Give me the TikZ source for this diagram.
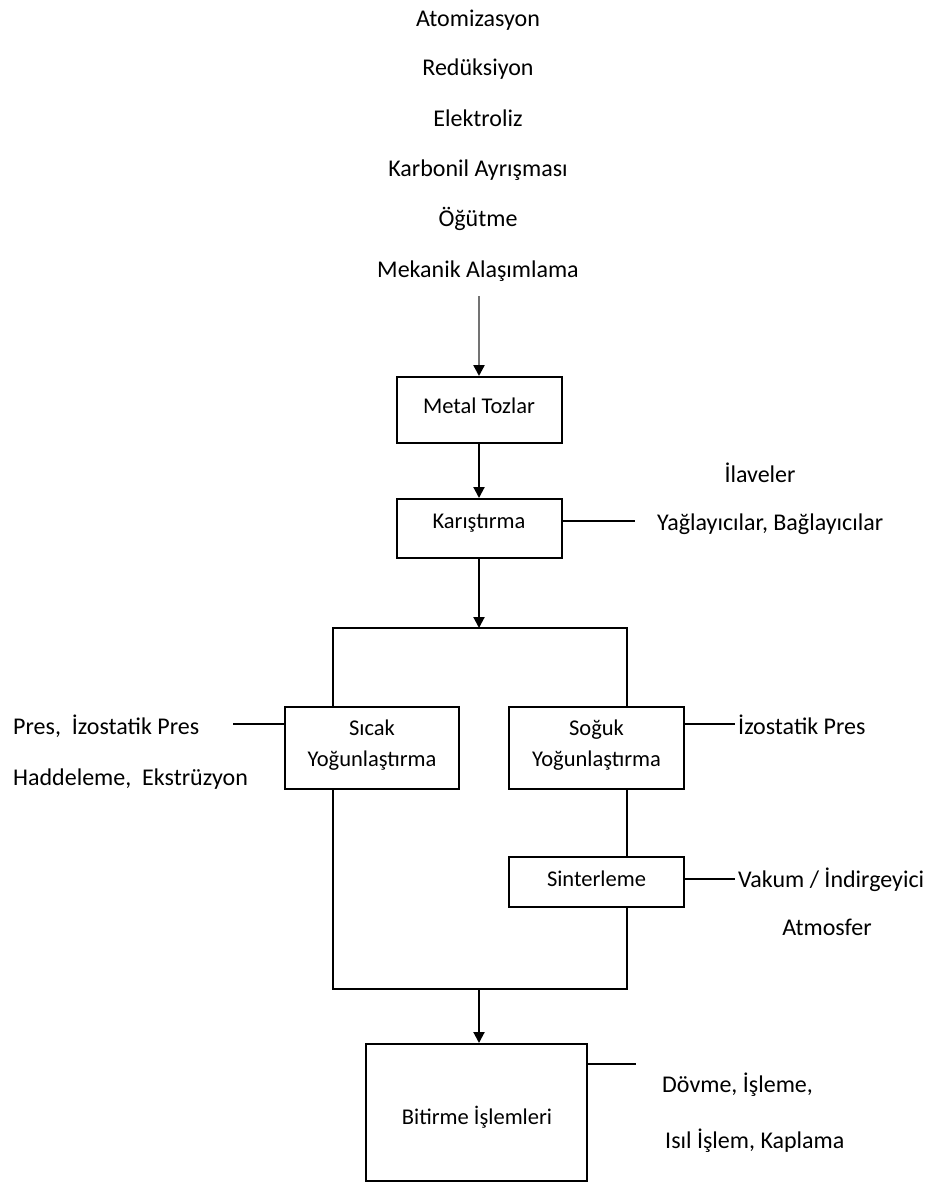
\documentclass[tikz,border=0pt]{standalone}
\usepackage{fontspec}
\setmainfont{Carlito}
\usetikzlibrary{arrows.meta}
\begin{document}
\begin{tikzpicture}[x=1pt,y=-1pt,
  box/.style={draw, line width=2pt, inner sep=0pt},
  lbl/.style={font=\fontsize{24}{29}\selectfont, inner sep=0pt},
  btxt/.style={font=\fontsize{22.5}{31}\selectfont, inner sep=0pt},
  conn/.style={line width=2pt},
  arr/.style={conn, -{Triangle[length=11pt,width=11pt,color=black]}},
]
\useasboundingbox (0,0) rectangle (944,1183);
% source processes
\node[lbl, anchor=base] (t1) at (478,27) {Atomizasyon};
\node[lbl, anchor=base] (t2) at (478,75) {Redüksiyon};
\node[lbl, anchor=base] (t3) at (478,126) {Elektroliz};
\node[lbl, anchor=base] (t4) at (478,176) {Karbonil Ayrışması};
\node[lbl, anchor=base] (t5) at (478,226) {Öğütme};
\node[lbl, anchor=base] (t6) at (478,277) {Mekanik Alaşımlama};
\coordinate (in) at (479,296);
% Metal Tozlar
\node[box, minimum width=165pt, minimum height=66pt] (metal) at (479,410) {};
\node[btxt, anchor=base] (metalT) at (479,413) {Metal Tozlar};
\draw[arr, draw=black!55, line width=2.4pt] (in) -- (in |- metal.north);
% Karistirma
\node[box, minimum width=165pt, minimum height=59pt] (kar) at (479,528.5) {};
\node[btxt, anchor=base] (karT) at (479,528) {Karıştırma};
\draw[arr] (metal) -- (kar);
\coordinate (kr) at (635,521);
\draw[conn] (kar.east |- kr) -- (kr);
\node[lbl, anchor=base] (ilv) at (760,482) {İlaveler};
\node[lbl, anchor=base west] (yag) at (657,530) {Yağlayıcılar, Bağlayıcılar};
% split
\coordinate (sp) at (479,628);
\draw[arr] (kar) -- (sp);
\node[box, minimum width=174pt, minimum height=82pt] (sic) at (372,748) {};
\node[box, minimum width=175pt, minimum height=82pt] (sog) at (596.5,748) {};
\coordinate (bl) at (333,628);
\coordinate (br) at (627,628);
\draw[conn] (bl |- sic.north) -- (bl) -- (br) -- (br |- sog.north);
\node[btxt, anchor=base] (sicT1) at (372,735) {Sıcak};
\node[btxt, anchor=base] (sicT2) at (372,766) {Yoğunlaştırma};
\node[btxt, anchor=base] (sogT1) at (596.5,735) {Soğuk};
\node[btxt, anchor=base] (sogT2) at (596.5,766) {Yoğunlaştırma};
% left labels
\coordinate (pl) at (233,724);
\draw[conn] (pl) -- (pl -| sic.west);
\node[lbl, anchor=base west] (pres) at (13,734) {Pres,~ İzostatik Pres};
\node[lbl, anchor=base west] (had) at (13,785) {Haddeleme,~ Ekstrüzyon};
% right labels
\coordinate (ir) at (735,724);
\draw[conn] (sog.east |- ir) -- (ir);
\node[lbl, anchor=base west] (izo) at (738,734) {İzostatik Pres};
% Sinterleme
\node[box, minimum width=175pt, minimum height=50pt] (sin) at (596.5,881.5) {};
\node[btxt, anchor=base] (sinT) at (596.5,886) {Sinterleme};
\draw[conn] (br |- sog.south) -- (br |- sin.north);
\coordinate (vr) at (735,879);
\draw[conn] (sin.east |- vr) -- (vr);
\node[lbl, anchor=base west] (vak) at (738,887) {Vakum / İndirgeyici};
\node[lbl, anchor=base] (atm) at (827,935) {Atmosfer};
% join
\coordinate (jl) at (333,989);
\coordinate (jr) at (627,989);
\coordinate (jm) at (479,989);
\draw[conn] (bl |- sic.south) -- (jl) -- (jr) -- (br |- sin.south);
% Bitirme
\node[box, minimum width=221pt, minimum height=137pt] (bit) at (476.5,1112.5) {};
\draw[arr] (jm) -- (jm |- bit.north);
\node[btxt, anchor=base] (bitT) at (477,1124) {Bitirme İşlemleri};
\coordinate (dr) at (636,1064);
\draw[conn] (bit.east |- dr) -- (dr);
\node[lbl, anchor=base west] (dov) at (662,1092) {Dövme, İşleme,};
\node[lbl, anchor=base west] (isil) at (665,1148) {Isıl İşlem, Kaplama};
\end{tikzpicture}
\end{document}
